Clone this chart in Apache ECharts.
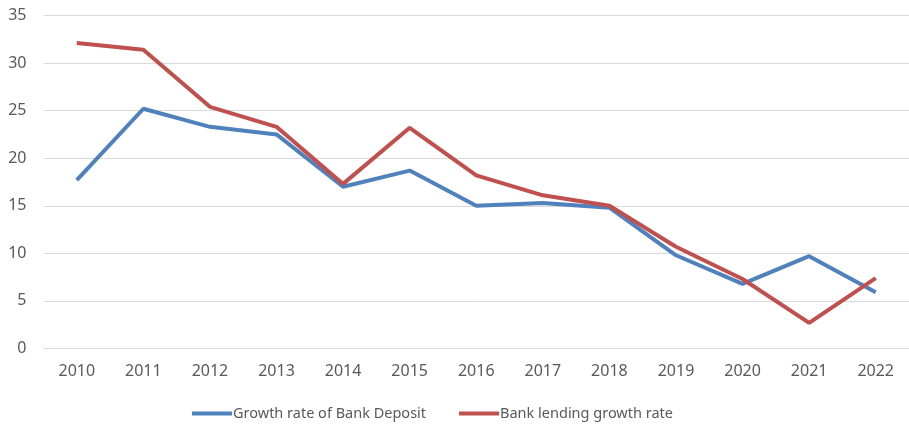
<!DOCTYPE html>
<html>
<head>
<meta charset="utf-8">
<script src="https://cdn.jsdelivr.net/npm/echarts@6/dist/echarts.min.js"></script>
<style>
  html, body { margin: 0; padding: 0; background: #fff; }
  #main { width: 909px; height: 427px; }
</style>
</head>
<body>
<div id="main"></div>
<script>
var years = ['2010', '2011', '2012', '2013', '2014', '2015', '2016', '2017', '2018', '2019', '2020', '2021', '2022'];
var depositGrowth = [17.7, 25.2, 23.3, 22.5, 17.0, 18.7, 15.0, 15.3, 14.8, 9.8, 6.8, 9.7, 5.9];
var lendingGrowth = [32.1, 31.4, 25.4, 23.3, 17.3, 23.2, 18.2, 16.1, 15.0, 10.7, 7.3, 2.7, 7.4];

var chartDom = document.getElementById('main');
var myChart = echarts.init(chartDom);
var option;

var labelFont = 'Noto Sans';

option = {
  animation: false,
  grid: {
    left: 43.5,
    top: 15.5,
    width: 871.5,
    height: 333
  },
  xAxis: {
    type: 'category',
    data: years,
    boundaryGap: true,
    axisLine: { show: true, lineStyle: { color: '#d9d9d9', width: 1 } },
    axisTick: { show: false },
    axisLabel: { color: '#595959', fontSize: 16, fontFamily: labelFont, margin: 15 }
  },
  yAxis: {
    type: 'value',
    min: 0,
    max: 35,
    interval: 5,
    axisLine: { show: false },
    axisTick: { show: false },
    splitLine: { lineStyle: { color: '#d9d9d9', width: 1 } },
    axisLabel: { color: '#595959', fontSize: 16, fontFamily: labelFont, margin: 17 }
  },
  legend: {
    left: 192,
    top: 406,
    padding: 0,
    icon: 'rect',
    itemWidth: 40,
    itemHeight: 4,
    itemGap: 33,
    textStyle: { color: '#595959', fontSize: 14.5, fontFamily: labelFont, padding: [0, 0, 0, -4] }
  },
  series: [
    {
      name: 'Growth rate of Bank Deposit',
      type: 'line',
      data: depositGrowth,
      symbol: 'none',
      lineStyle: { color: '#4f81bd', width: 4 },
      itemStyle: { color: '#4f81bd' }
    },
    {
      name: 'Bank lending growth rate',
      type: 'line',
      data: lendingGrowth,
      symbol: 'none',
      lineStyle: { color: '#c0504d', width: 4 },
      itemStyle: { color: '#c0504d' }
    }
  ]
};

option && myChart.setOption(option);
</script>
</body>
</html>
